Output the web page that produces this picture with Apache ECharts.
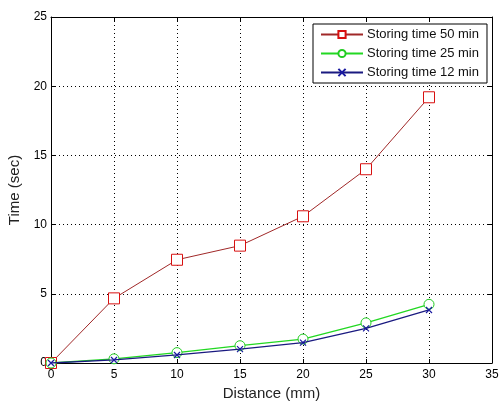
<!DOCTYPE html>
<html><head><meta charset="utf-8">
<script src="https://cdn.jsdelivr.net/npm/echarts@6/dist/echarts.min.js"></script>
<style>html,body{margin:0;padding:0;background:#fff}#c{width:500px;height:403px}</style>
</head><body><div id="c"></div>
<script>
var distance = [0, 5, 10, 15, 20, 25, 30];
var time50 = [0, 4.67, 7.46, 8.48, 10.6, 14.0, 19.2];
var time25 = [0, 0.3, 0.75, 1.25, 1.73, 2.9, 4.24];
var time12 = [0, 0.22, 0.58, 1.0, 1.47, 2.5, 3.83];
var names = ['Storing time 50 min', 'Storing time 25 min', 'Storing time 12 min'];

function pairs(v){ return distance.map(function(d,i){return [d, v[i]];}); }
var font = 'Liberation Sans, Arial, Helvetica, sans-serif';
var chart = echarts.init(document.getElementById('c'));
var xTick = {show:true, inside:true, length:4, lineStyle:{color:'#000'}};
chart.setOption({
  animation:false,
  backgroundColor:'#fff',
  grid:{left:51, right:8, top:17, bottom:40, show:false, containLabel:false, outerBoundsMode:'none'},
  legend:{
    orient:'vertical', left:313, top:24,
    padding:[4,8,4,7], itemGap:6, itemWidth:42, itemHeight:9,
    borderColor:'#000', borderWidth:1, backgroundColor:'#fff',
    textStyle:{fontFamily:font, fontSize:13, color:'#111', padding:[0,0,0,-1]},
    data:names
  },
  xAxis:[{
    type:'value', min:0, max:35, interval:5,
    name:'Distance (mm)', nameLocation:'middle', nameGap:23,
    nameTextStyle:{fontFamily:font, fontSize:15, color:'#222'},
    axisLine:{show:true, onZero:false, lineStyle:{color:'#000'}},
    axisTick:xTick,
    axisLabel:{fontFamily:font, fontSize:12, color:'#000', margin:6},
    splitLine:{show:true, lineStyle:{type:[1,3], color:'#000', width:1}}
  },{
    type:'value', min:0, max:35, interval:5, position:'top',
    axisLine:{show:true, onZero:false, lineStyle:{color:'#000'}},
    axisTick:xTick, axisLabel:{show:false}, splitLine:{show:false}
  }],
  yAxis:[{
    type:'value', min:0, max:25, interval:5,
    name:'Time (sec)', nameLocation:'middle', nameGap:26,
    nameTextStyle:{fontFamily:font, fontSize:15, color:'#222'},
    axisLine:{show:true, onZero:false, lineStyle:{color:'#000'}},
    axisTick:xTick,
    axisLabel:{fontFamily:font, fontSize:12, color:'#000', margin:4},
    splitLine:{show:true, lineStyle:{type:[1,3], color:'#000', width:1}}
  },{
    type:'value', min:0, max:25, interval:5, position:'right',
    axisLine:{show:true, onZero:false, lineStyle:{color:'#000'}},
    axisTick:xTick, axisLabel:{show:false}, splitLine:{show:false}
  }],
  series:[{
    name:names[0], type:'line', data:pairs(time50),
    symbol:'rect', symbolSize:11, showAllSymbol:true,
    lineStyle:{color:'#a02828', width:1},
    itemStyle:{color:'#fff', borderColor:'#d81010', borderWidth:1},
    z:3
  },{
    name:names[1], type:'line', data:pairs(time25),
    symbol:'circle', symbolSize:10,
    lineStyle:{color:'#22d822', width:1.3},
    itemStyle:{color:'#fff', borderColor:'#22cc22', borderWidth:1},
    z:4
  },{
    name:names[2], type:'line', data:pairs(time12),
    symbol:'path://M0,0L10,10M10,0L0,10', symbolSize:6,
    lineStyle:{color:'#1a1a80', width:1.3},
    itemStyle:{color:'none', borderColor:'#1a1aa0', borderWidth:1.2},
    z:5
  }]
});
</script></body></html>
